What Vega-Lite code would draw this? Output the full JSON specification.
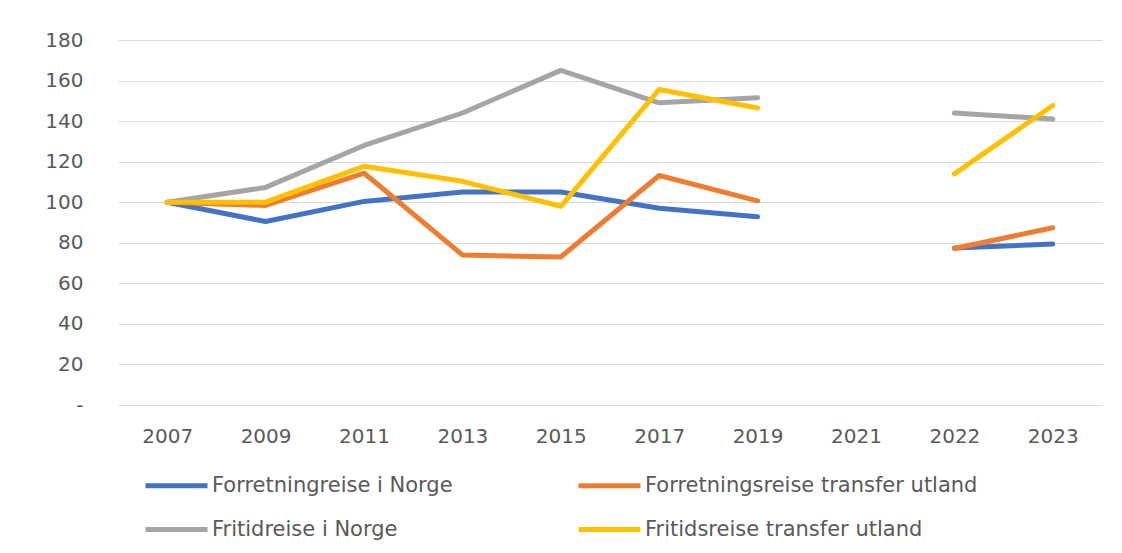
{
  "$schema": "https://vega.github.io/schema/vega-lite/v6.json",
  "width": 984,
  "height": 365,
  "autosize": "none",
  "padding": {"left": 118, "top": 40, "right": 20, "bottom": 148},
  "background": "white",
  "data": {
    "values": [
      {"year": "2007", "series": "Forretningreise i Norge", "value": 100},
      {"year": "2009", "series": "Forretningreise i Norge", "value": 90.5},
      {"year": "2011", "series": "Forretningreise i Norge", "value": 100.4},
      {"year": "2013", "series": "Forretningreise i Norge", "value": 105},
      {"year": "2015", "series": "Forretningreise i Norge", "value": 105},
      {"year": "2017", "series": "Forretningreise i Norge", "value": 97},
      {"year": "2019", "series": "Forretningreise i Norge", "value": 92.8},
      {"year": "2021", "series": "Forretningreise i Norge", "value": null},
      {"year": "2022", "series": "Forretningreise i Norge", "value": 77.4},
      {"year": "2023", "series": "Forretningreise i Norge", "value": 79.4},
      {"year": "2007", "series": "Forretningsreise transfer utland", "value": 100},
      {"year": "2009", "series": "Forretningsreise transfer utland", "value": 98.4},
      {"year": "2011", "series": "Forretningsreise transfer utland", "value": 114.4},
      {"year": "2013", "series": "Forretningsreise transfer utland", "value": 74},
      {"year": "2015", "series": "Forretningsreise transfer utland", "value": 73},
      {"year": "2017", "series": "Forretningsreise transfer utland", "value": 113.2},
      {"year": "2019", "series": "Forretningsreise transfer utland", "value": 100.7},
      {"year": "2021", "series": "Forretningsreise transfer utland", "value": null},
      {"year": "2022", "series": "Forretningsreise transfer utland", "value": 77.2},
      {"year": "2023", "series": "Forretningsreise transfer utland", "value": 87.4},
      {"year": "2007", "series": "Fritidreise i Norge", "value": 100},
      {"year": "2009", "series": "Fritidreise i Norge", "value": 107.3},
      {"year": "2011", "series": "Fritidreise i Norge", "value": 128},
      {"year": "2013", "series": "Fritidreise i Norge", "value": 144},
      {"year": "2015", "series": "Fritidreise i Norge", "value": 165},
      {"year": "2017", "series": "Fritidreise i Norge", "value": 149},
      {"year": "2019", "series": "Fritidreise i Norge", "value": 151.5},
      {"year": "2021", "series": "Fritidreise i Norge", "value": null},
      {"year": "2022", "series": "Fritidreise i Norge", "value": 144},
      {"year": "2023", "series": "Fritidreise i Norge", "value": 141},
      {"year": "2007", "series": "Fritidsreise transfer utland", "value": 100},
      {"year": "2009", "series": "Fritidsreise transfer utland", "value": 100},
      {"year": "2011", "series": "Fritidsreise transfer utland", "value": 117.7},
      {"year": "2013", "series": "Fritidsreise transfer utland", "value": 110.3},
      {"year": "2015", "series": "Fritidsreise transfer utland", "value": 98},
      {"year": "2017", "series": "Fritidsreise transfer utland", "value": 155.6},
      {"year": "2019", "series": "Fritidsreise transfer utland", "value": 146.5},
      {"year": "2021", "series": "Fritidsreise transfer utland", "value": null},
      {"year": "2022", "series": "Fritidsreise transfer utland", "value": 114},
      {"year": "2023", "series": "Fritidsreise transfer utland", "value": 147.7}
    ]
  },
  "mark": {"type": "line", "strokeWidth": 5, "invalid": "break-paths-show-domains", "strokeCap": "round", "strokeJoin": "round"},
  "encoding": {
    "x": {
      "field": "year",
      "type": "ordinal",
      "sort": null,
      "scale": {"domain": ["2007", "2009", "2011", "2013", "2015", "2017", "2019", "2021", "2022", "2023"]},
      "axis": {
        "title": null,
        "labelAngle": 0,
        "domain": false,
        "ticks": false,
        "grid": false,
        "labelFont": "DejaVu Sans",
        "labelFontSize": 20,
        "labelColor": "#595959",
        "labelPadding": 21
      }
    },
    "y": {
      "field": "value",
      "type": "quantitative",
      "scale": {"domain": [0, 180], "nice": false},
      "axis": {
        "title": null,
        "values": [0, 20, 40, 60, 80, 100, 120, 140, 160, 180],
        "labelExpr": "datum.value == 0 ? '-' : datum.label",
        "domain": false,
        "ticks": false,
        "gridColor": "#d9d9d9",
        "gridWidth": 1,
        "labelFont": "DejaVu Sans",
        "labelFontSize": 20,
        "labelColor": "#595959",
        "labelPadding": 35
      }
    },
    "color": {
      "field": "series",
      "type": "nominal",
      "scale": {
        "domain": ["Forretningreise i Norge", "Forretningsreise transfer utland", "Fritidreise i Norge", "Fritidsreise transfer utland"],
        "range": ["#4472C4", "#ED7D31", "#A5A5A5", "#FFC000"]
      },
      "legend": {
        "title": null,
        "orient": "none",
        "legendX": 25,
        "legendY": 412,
        "direction": "horizontal",
        "columns": 2,
        "symbolType": "stroke",
        "symbolSize": 3844,
        "symbolStrokeWidth": 5,
        "labelFont": "DejaVu Sans",
        "labelFontSize": 21,
        "labelColor": "#595959",
        "labelOffset": 2,
        "columnPadding": 115,
        "rowPadding": -25,
        "labelLimit": 500,
        "padding": 0
      }
    }
  },
  "config": {"view": {"stroke": null}}
}
